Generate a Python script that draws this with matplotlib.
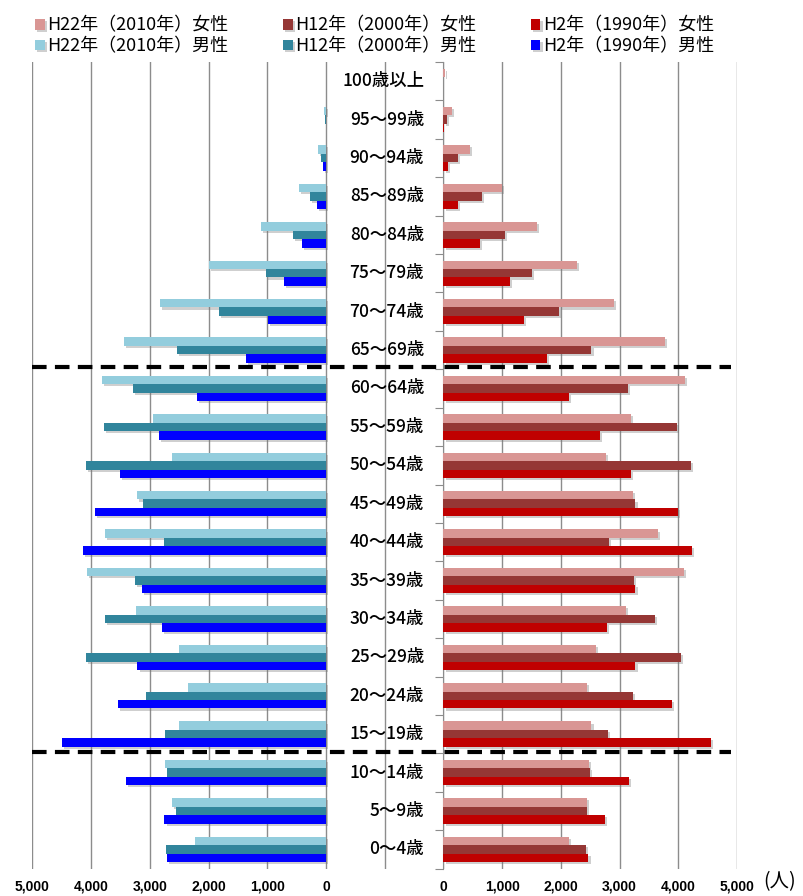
import matplotlib
matplotlib.use("Agg")
import matplotlib.pyplot as plt
import matplotlib.patheffects as pe
import numpy as np

plt.rcParams['font.family'] = ['Noto Sans CJK JP', 'DejaVu Sans']

ages = ['0～4歳', '5～9歳', '10～14歳', '15～19歳', '20～24歳', '25～29歳', '30～34歳',
        '35～39歳', '40～44歳', '45～49歳', '50～54歳', '55～59歳', '60～64歳', '65～69歳',
        '70～74歳', '75～79歳', '80～84歳', '85～89歳', '90～94歳', '95～99歳', '100歳以上']

male_2010 = [2230, 2620, 2740, 2500, 2350, 2500, 3240, 4070, 3770, 3220, 2620, 2950, 3820,
             3440, 2820, 2000, 1110, 455, 140, 30, 5]
male_2000 = [2720, 2550, 2710, 2740, 3070, 4080, 3760, 3250, 2760, 3120, 4080, 3780, 3280,
             2540, 1820, 1020, 570, 275, 90, 10, 0]
male_1990 = [2710, 2750, 3410, 4500, 3540, 3210, 2790, 3140, 4130, 3930, 3500, 2850, 2190,
             1360, 990, 715, 410, 155, 45, 5, 0]

female_2010 = [2140, 2450, 2480, 2520, 2450, 2590, 3110, 4090, 3660, 3220, 2770, 3200, 4120,
               3780, 2910, 2270, 1590, 990, 455, 140, 28]
female_2000 = [2430, 2450, 2490, 2800, 3230, 4040, 3610, 3250, 2820, 3270, 4220, 3970, 3140,
               2520, 1970, 1500, 1050, 660, 245, 57, 0]
female_1990 = [2470, 2755, 3160, 4555, 3885, 3270, 2790, 3270, 4240, 3990, 3190, 2670, 2140,
               1760, 1375, 1125, 620, 245, 75, 11, 0]

legend_labels_f = ['H22年（2010年）女性', 'H12年（2000年）女性', 'H2年（1990年）女性']
legend_labels_m = ['H22年（2010年）男性', 'H12年（2000年）男性', 'H2年（1990年）男性']

left_ticks = [5000, 4000, 3000, 2000, 1000, 0]
left_tick_labels = ['5,000', '4,000', '3,000', '2,000', '1,000', '0']
right_ticks = [0, 1000, 2000, 3000, 4000, 5000]
right_tick_labels = ['0', '1,000', '2,000', '3,000', '4,000', '5,000']

male_colors = ['#93CDDD', '#31859C', '#0000FF']
female_colors = ['#D99694', '#953735', '#C00000']

W, H = 804, 896
fig = plt.figure(figsize=(W / 100, H / 100), dpi=100)

y_bot = 1 - 868.6 / H
y_top = 1 - 62.0 / H
axL = fig.add_axes([32.3 / W, y_bot, (443.5 - 32.3) / W, y_top - y_bot])
axR = fig.add_axes([443.5 / W, y_bot, (737.0 - 443.5) / W, y_top - y_bot])
axL.set_zorder(3)
axL.patch.set_visible(False)

y = np.arange(len(ages))
bh = 0.22
offsets = [bh, 0.0, -bh]
shadow = [pe.SimplePatchShadow(offset=(1.5, -1.5), shadow_rgbFace='#777777', alpha=0.35), pe.Normal()]

handles = {}
for series, col, off, key in zip([male_2010, male_2000, male_1990], male_colors, offsets, ['m10', 'm00', 'm90']):
    b = axL.barh(y + off, series, height=bh, color=col, edgecolor='none', zorder=3)
    for p in b:
        p.set_path_effects(shadow)
    handles[key] = b
for series, col, off, key in zip([female_2010, female_2000, female_1990], female_colors, offsets, ['f10', 'f00', 'f90']):
    b = axR.barh(y + off, series, height=bh, color=col, edgecolor='none', zorder=3)
    for p in b:
        p.set_path_effects(shadow)
    handles[key] = b

grid_color = '#8C8C8C'
# left axis
axL.set_xlim(5000, -2000)
axL.set_ylim(-0.5, len(ages) - 0.5)
axL.set_xticks(left_ticks + [-1000])
axL.set_xticklabels(left_tick_labels + [''])
for s in axL.spines.values():
    s.set_visible(False)
axL.set_yticks([])
axL.grid(axis='x', color=grid_color, linewidth=1.0, zorder=0)
axL.tick_params(axis='x', length=0, pad=8)

# right axis
axR.set_xlim(0, 5000)
axR.set_ylim(-0.5, len(ages) - 0.5)
axR.set_xticks(right_ticks)
axR.set_xticklabels(right_tick_labels)
for k, s in axR.spines.items():
    s.set_visible(k == 'left')
axR.spines['left'].set_color(grid_color)
axR.set_yticks(np.arange(-0.5, len(ages), 1.0))
axR.set_yticklabels([])
axR.tick_params(axis='y', length=6, color=grid_color, direction='out')
axR.grid(axis='x', color=grid_color, linewidth=1.0, zorder=0)
axR.tick_params(axis='x', length=0, pad=8)

for ax in (axL, axR):
    for lab in ax.get_xticklabels():
        lab.set_fontfamily(['Liberation Sans', 'DejaVu Sans'])
        lab.set_fontweight('bold')
        lab.set_fontsize(10)

# category labels
for yi, name in zip(y, ages):
    axL.text(-1670, yi, name, ha='right', va='center', fontsize=12.5,
             fontweight='medium', color='black', zorder=5)

# dashed separators
for yy in (12.57, 2.53):
    axL.plot([5000, -6900], [yy, yy], color='black', linewidth=3, linestyle=(0, (3.5, 2)),
             clip_on=False, zorder=6)

fig.text(763 / W, 1 - 882 / H, '(人)', ha='left', va='center', fontsize=14)

order = [handles['f10'], handles['m10'], handles['f00'], handles['m00'], handles['f90'], handles['m90']]
labels = [legend_labels_f[0], legend_labels_m[0], legend_labels_f[1], legend_labels_m[1],
          legend_labels_f[2], legend_labels_m[2]]
fig.legend(order, labels, ncol=3, loc='upper left', bbox_to_anchor=(22 / W, 1 - 4 / H),
           frameon=False, fontsize=13, handlelength=0.55, handleheight=0.55,
           handletextpad=0.15, columnspacing=3.0, labelspacing=0.15, borderpad=0.2)

fig.savefig('out.png', dpi=100)
